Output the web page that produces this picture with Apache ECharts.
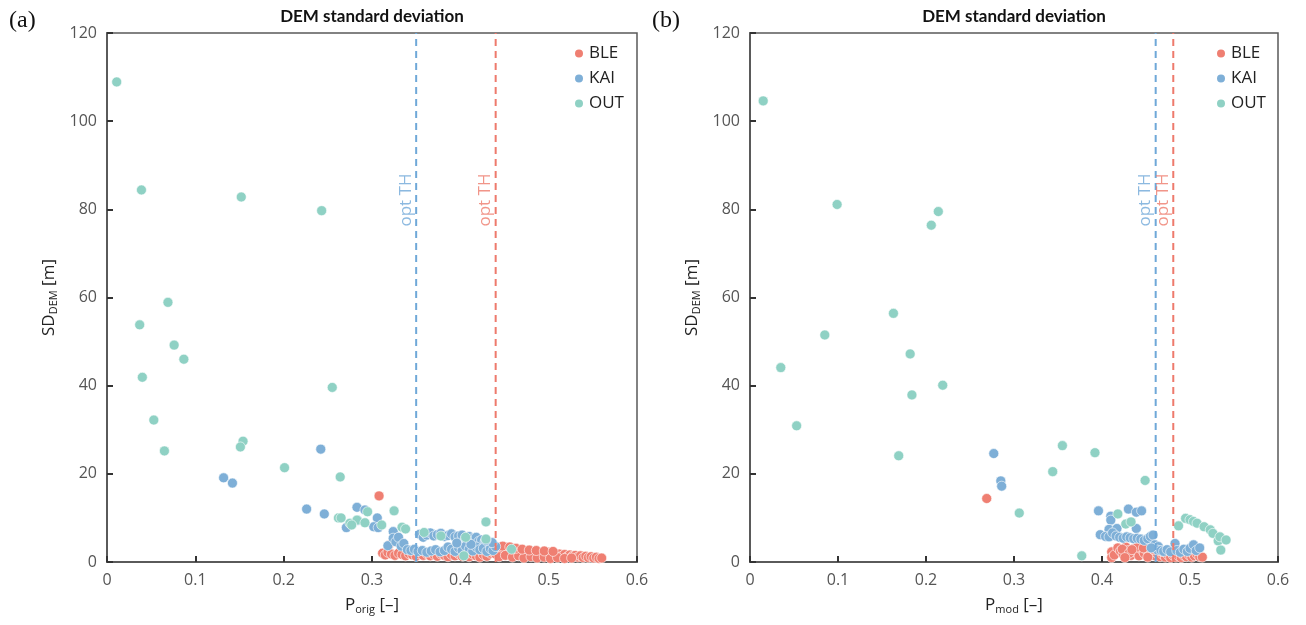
<!DOCTYPE html>
<html>
<head>
<meta charset="utf-8">
<title>DEM standard deviation</title>
<script src="https://cdn.jsdelivr.net/npm/echarts@6/dist/echarts.min.js"></script>
<style>
  html, body { margin: 0; padding: 0; background: #fff; }
  #chart { width: 1306px; height: 625px; }
</style>
</head>
<body>
<div id="chart"></div>
<script>
// ---- data: [P, SD_DEM (m)] per glacier group ----
// panel (a): P_orig
const bleA = [
  [0.308, 15.0], [0.319, 3.8],
  [0.312, 2.0], [0.315, 1.6], [0.318, 2.2], [0.322, 1.8], [0.326, 1.5], [0.330, 2.0],
  [0.334, 1.7], [0.338, 1.4], [0.342, 1.9], [0.346, 1.6], [0.350, 1.3], [0.354, 1.8],
  [0.358, 1.5], [0.362, 1.9], [0.366, 1.4], [0.370, 1.7], [0.374, 1.3], [0.378, 1.8],
  [0.382, 1.5], [0.386, 1.2], [0.390, 1.7], [0.394, 1.4], [0.398, 1.9], [0.402, 1.3],
  [0.406, 1.6], [0.410, 1.2], [0.414, 1.8], [0.418, 1.4], [0.422, 1.1], [0.426, 1.7],
  [0.430, 1.3], [0.434, 2.0], [0.437, 2.3], [0.440, 1.8], [0.443, 2.6], [0.446, 3.0],
  [0.449, 2.8], [0.452, 3.3], [0.455, 2.5], [0.458, 3.0], [0.461, 2.2], [0.464, 2.7],
  [0.467, 1.9], [0.470, 2.4], [0.473, 1.7], [0.476, 2.2], [0.479, 1.8], [0.482, 2.3],
  [0.485, 1.6], [0.488, 2.1], [0.491, 1.5], [0.494, 2.0], [0.497, 1.7], [0.500, 2.2],
  [0.503, 1.6], [0.506, 1.9], [0.509, 1.4], [0.512, 1.8], [0.515, 1.3], [0.518, 1.7],
  [0.521, 1.2], [0.524, 1.6], [0.527, 1.3], [0.530, 1.5], [0.533, 1.1], [0.536, 1.4],
  [0.539, 1.0], [0.542, 1.3], [0.545, 1.0], [0.548, 1.2], [0.551, 0.9], [0.554, 1.1],
  [0.557, 0.8], [0.560, 0.9], [0.448, 3.6], [0.456, 3.4],
  [0.444, 1.2], [0.451, 1.5], [0.459, 1.1], [0.466, 1.4], [0.472, 0.9], [0.480, 1.2],
  [0.487, 0.9], [0.495, 1.1], [0.502, 0.8], [0.510, 1.0], [0.518, 0.8], [0.526, 0.9],
  [0.463, 3.1], [0.470, 2.9], [0.478, 2.7], [0.486, 2.6], [0.495, 2.5], [0.505, 2.4]
];
const kaiA = [
  [0.132, 19.1], [0.142, 17.9], [0.242, 25.6], [0.226, 12.0], [0.246, 10.9], [0.271, 7.8],
  [0.283, 12.4], [0.292, 11.8], [0.284, 9.4], [0.306, 10.0], [0.302, 8.0], [0.307, 7.8],
  [0.318, 3.7], [0.324, 6.9], [0.324, 5.4], [0.327, 4.6], [0.330, 5.6], [0.333, 3.6],
  [0.336, 4.2], [0.340, 2.8], [0.344, 2.6], [0.348, 2.9],
  [0.354, 6.3], [0.358, 5.6], [0.362, 6.1], [0.366, 6.6], [0.370, 5.9], [0.374, 6.2],
  [0.378, 6.5], [0.382, 5.8], [0.386, 6.0], [0.390, 6.4], [0.394, 5.7], [0.398, 5.9],
  [0.402, 6.1], [0.406, 5.4], [0.410, 5.8], [0.414, 5.3], [0.418, 5.6], [0.421, 4.7],
  [0.424, 5.0], [0.428, 4.6], [0.431, 4.2],
  [0.352, 2.4], [0.357, 2.6], [0.362, 2.2], [0.367, 2.5], [0.372, 2.8], [0.377, 2.3],
  [0.382, 2.6], [0.386, 3.4], [0.390, 2.9], [0.394, 2.4], [0.398, 3.2], [0.402, 2.6],
  [0.406, 3.6], [0.410, 2.9], [0.414, 2.5], [0.418, 3.4], [0.422, 2.8], [0.426, 3.1],
  [0.430, 2.4], [0.434, 3.0], [0.437, 2.6], [0.440, 3.5],
  [0.396, 4.3], [0.412, 4.0], [0.436, 4.4], [0.429, 4.9]
];
const outA = [
  [0.011, 108.9], [0.039, 84.4], [0.152, 82.8], [0.243, 79.7], [0.069, 58.9], [0.037, 53.8],
  [0.076, 49.2], [0.087, 46.0], [0.040, 41.9], [0.255, 39.6], [0.053, 32.2], [0.065, 25.2],
  [0.154, 27.4], [0.151, 26.1], [0.201, 21.4], [0.264, 19.3], [0.262, 10.0], [0.265, 10.0],
  [0.275, 8.8], [0.283, 9.5], [0.292, 8.9], [0.295, 11.4], [0.311, 8.4], [0.277, 8.4],
  [0.325, 11.6], [0.334, 7.9], [0.338, 7.5], [0.359, 6.7], [0.378, 5.9], [0.406, 5.6],
  [0.429, 9.1], [0.429, 5.2], [0.404, 1.4], [0.458, 2.9]
];
// panel (b): P_mod
const bleB = [
  [0.269, 14.4],
  [0.411, 2.3], [0.411, 1.0], [0.414, 1.6], [0.418, 3.2], [0.421, 2.5], [0.424, 1.8],
  [0.427, 3.4], [0.430, 2.6], [0.433, 1.5], [0.436, 3.0], [0.439, 2.2], [0.442, 1.4],
  [0.445, 2.9], [0.448, 2.0], [0.451, 2.7], [0.454, 1.6], [0.457, 2.3], [0.460, 1.4],
  [0.463, 1.9], [0.466, 1.2], [0.469, 1.7], [0.472, 1.1], [0.475, 1.6], [0.478, 1.0],
  [0.481, 1.5], [0.484, 1.1], [0.487, 1.4], [0.490, 1.0], [0.493, 1.5], [0.496, 1.2],
  [0.499, 1.6], [0.502, 1.1], [0.505, 1.4], [0.508, 1.8], [0.511, 1.2], [0.514, 1.1],
  [0.423, 2.9], [0.440, 3.4], [0.431, 2.0],
  [0.426, 1.0], [0.434, 2.8], [0.447, 3.2], [0.452, 1.1], [0.458, 2.9], [0.468, 2.4]
];
const kaiB = [
  [0.277, 24.6], [0.285, 18.4], [0.286, 17.2], [0.396, 11.6], [0.410, 10.4], [0.410, 9.5],
  [0.430, 12.0], [0.439, 11.3], [0.445, 11.6], [0.439, 7.6], [0.408, 7.4], [0.417, 7.6],
  [0.398, 6.2], [0.404, 5.8], [0.408, 5.7], [0.412, 6.6], [0.416, 5.9], [0.420, 5.6],
  [0.424, 5.4], [0.428, 5.7], [0.432, 5.5], [0.436, 5.3], [0.440, 5.4], [0.444, 5.2],
  [0.448, 4.9], [0.452, 5.3], [0.455, 5.8], [0.458, 6.1], [0.460, 3.9], [0.464, 3.5],
  [0.463, 2.7], [0.467, 2.6], [0.470, 2.4], [0.474, 2.8], [0.478, 2.3], [0.483, 4.2],
  [0.485, 2.6], [0.489, 2.2], [0.493, 2.9], [0.497, 2.4], [0.500, 3.1], [0.504, 3.9],
  [0.507, 2.6], [0.511, 3.2], [0.456, 3.2]
];
const outB = [
  [0.015, 104.6], [0.099, 81.1], [0.214, 79.5], [0.206, 76.4], [0.163, 56.4], [0.085, 51.5],
  [0.182, 47.2], [0.035, 44.1], [0.219, 40.1], [0.184, 37.9], [0.053, 30.9], [0.169, 24.1],
  [0.355, 26.4], [0.392, 24.8], [0.344, 20.5], [0.449, 18.5], [0.306, 11.1], [0.377, 1.4],
  [0.418, 10.9], [0.427, 8.6], [0.433, 9.1],
  [0.487, 8.2], [0.495, 9.9], [0.500, 9.6], [0.504, 9.2], [0.508, 8.8], [0.516, 8.0],
  [0.523, 7.3], [0.526, 6.5], [0.532, 4.8], [0.534, 5.7], [0.541, 5.0], [0.535, 2.7]
];
// optimal thresholds per panel
const thrA = { KAI: 0.35, BLE: 0.44 };
const thrB = { KAI: 0.461, BLE: 0.481 };
const thrLabel = 'opt TH';
const thrLabelLevel = 82;

const xTicks = [0, 0.1, 0.2, 0.3, 0.4, 0.5, 0.6];
const yTicks = [0, 20, 40, 60, 80, 100, 120];
const groups = ['BLE', 'KAI', 'OUT'];

const COLORS = { BLE: '#EF7F72', KAI: '#7EAFD7', OUT: '#8FD1C4' };
const LINE_COLORS = { BLE: '#EE7A6C', KAI: '#6FA8D8' };
const FONT = 'Open Sans';
const AXIS_COLOR = '#5a5a5a';

const chart = echarts.init(document.getElementById('chart'), null, { renderer: 'canvas' });

const nameRich = {
  a: { fontFamily: FONT, fontSize: 17, color: '#222' },
  b: { fontFamily: FONT, fontSize: 11, color: '#222', verticalAlign: 'bottom', padding: [8, 0, 0, 0] }
};

function xAxisCfg(gridIndex, sub) {
  return {
    type: 'value', gridIndex,
    min: xTicks[0], max: xTicks[xTicks.length - 1], interval: 0.1,
    name: '{a|P}{b|' + sub + '}{a| [–]}',
    nameLocation: 'middle', nameGap: 34,
    nameTextStyle: { rich: nameRich },
    axisLine: { show: true, onZero: false, lineStyle: { color: AXIS_COLOR, width: 2 } },
    axisTick: { show: true, inside: true, length: 6, lineStyle: { color: '#333', width: 2 } },
    axisLabel: { fontFamily: FONT, fontSize: 16, color: '#555', margin: 10,
      formatter: v => (v === 0 ? '0' : String(+v.toFixed(1))) },
    splitLine: { show: false }
  };
}
function yAxisCfg(gridIndex) {
  return {
    type: 'value', gridIndex,
    min: yTicks[0], max: yTicks[yTicks.length - 1], interval: 20,
    name: '{a|SD}{b|DEM}{a| [m]}',
    nameLocation: 'middle', nameGap: 48, nameRotate: 90,
    nameTextStyle: { rich: nameRich },
    axisLine: { show: true, onZero: false, lineStyle: { color: AXIS_COLOR, width: 2 } },
    axisTick: { show: true, inside: true, length: 6, lineStyle: { color: '#333', width: 2 } },
    axisLabel: { fontFamily: FONT, fontSize: 16, color: '#555', margin: 10 },
    splitLine: { show: false }
  };
}

function scatter(name, data, idx) {
  return {
    type: 'scatter', name, data,
    xAxisIndex: idx, yAxisIndex: idx,
    symbol: 'circle', symbolSize: 10,
    itemStyle: { color: COLORS[name], borderColor: '#ffffff', borderWidth: 0.6, opacity: 1 },
    z: 2
  };
}
// dashed vertical threshold line plus its rotated label
function threshold(name, x, idx) {
  return [{
    type: 'line', name: name + ' threshold', data: [[x, yTicks[0]], [x, yTicks[yTicks.length - 1]]],
    xAxisIndex: idx, yAxisIndex: idx, symbol: 'none', silent: true,
    lineStyle: { color: LINE_COLORS[name], width: 2, type: [7, 5] },
    z: 5
  }, {
    type: 'scatter', name: name + ' threshold label', data: [[x, thrLabelLevel]],
    xAxisIndex: idx, yAxisIndex: idx, symbolSize: 1, silent: true,
    itemStyle: { color: 'rgba(0,0,0,0)' },
    label: {
      show: true, formatter: thrLabel, position: [-10, 0], rotate: 90,
      align: 'center', verticalAlign: 'middle',
      fontFamily: FONT, fontSize: 17, color: LINE_COLORS[name]
    },
    z: 6
  }];
}

function legendCfg(left) {
  return {
    data: groups, orient: 'vertical', left, top: 40,
    icon: 'circle', itemWidth: 10, itemHeight: 10, itemGap: 8,
    textStyle: { fontFamily: FONT, fontSize: 17, color: '#222' },
    selectedMode: false
  };
}

const titleStyle = { fontFamily: 'Lato', fontSize: 17, fontWeight: 'bold', fill: '#111', textAlign: 'center' };
const panelStyle = { fontFamily: 'Liberation Serif', fontSize: 24, fontWeight: 'normal', color: '#111' };

const option = {
  animation: false,
  backgroundColor: '#ffffff',
  title: [
    { text: '(a)', left: 4, top: 4, textStyle: panelStyle },
    { text: '(b)', left: 647, top: 4, textStyle: panelStyle }
  ],
  graphic: [
    { type: 'text', x: 372, y: 8, style: Object.assign({ text: 'DEM standard deviation' }, titleStyle) },
    { type: 'text', x: 1014, y: 8, style: Object.assign({ text: 'DEM standard deviation' }, titleStyle) }
  ],
  legend: [legendCfg(568), legendCfg(1210)],
  grid: [
    { left: 107, top: 33, width: 530, height: 529, show: true, borderColor: AXIS_COLOR, borderWidth: 1.5, backgroundColor: 'transparent' },
    { left: 750, top: 33, width: 528, height: 529, show: true, borderColor: AXIS_COLOR, borderWidth: 1.5, backgroundColor: 'transparent' }
  ],
  xAxis: [xAxisCfg(0, 'orig'), xAxisCfg(1, 'mod')],
  yAxis: [yAxisCfg(0), yAxisCfg(1)],
  series: [
    scatter('BLE', bleA, 0), scatter('KAI', kaiA, 0), scatter('OUT', outA, 0),
    ...threshold('KAI', thrA.KAI, 0), ...threshold('BLE', thrA.BLE, 0),
    scatter('BLE', bleB, 1), scatter('KAI', kaiB, 1), scatter('OUT', outB, 1),
    ...threshold('KAI', thrB.KAI, 1), ...threshold('BLE', thrB.BLE, 1)
  ]
};
chart.setOption(option);
</script>
</body>
</html>
